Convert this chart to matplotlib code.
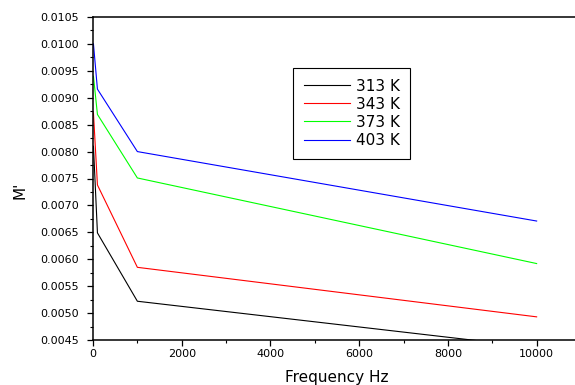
import matplotlib
matplotlib.use("Agg")
import matplotlib.pyplot as plt
from matplotlib.ticker import MultipleLocator, FormatStrFormatter

plt.rcParams['font.family'] = ['DejaVu Sans']

freq = [10, 100, 1000, 10000]
labels = ["313 K", "343 K", "373 K", "403 K"]
colors = ["black", "red", "#00ff00", "blue"]
m_313 = [0.00810, 0.00649, 0.00522, 0.00436]
m_343 = [0.00872, 0.00738, 0.00585, 0.00493]
m_373 = [0.00940, 0.00869, 0.00751, 0.00592]
m_403 = [0.01000, 0.00916, 0.00800, 0.00671]
series = [m_313, m_343, m_373, m_403]

fig = plt.figure(figsize=(5.75, 3.85), dpi=100)
ax = fig.add_axes([93/575, 1-340/385, 488/575, 323/385])

for ys, lab, c in zip(series, labels, colors):
    ax.plot(freq, ys, color=c, lw=0.8, label=lab)

ax.set_xlim(0, 11000)
ax.set_ylim(0.0045, 0.0105)
ax.xaxis.set_major_locator(MultipleLocator(2000))
ax.xaxis.set_minor_locator(MultipleLocator(1000))
ax.yaxis.set_major_locator(MultipleLocator(0.0005))
ax.yaxis.set_minor_locator(MultipleLocator(0.00025))
ax.yaxis.set_major_formatter(FormatStrFormatter('%.4f'))
ax.tick_params(which='major', direction='out', length=4, width=0.9, labelsize=8)
ax.tick_params(which='minor', direction='out', length=2.2, width=0.8)
ax.tick_params(axis='y', which='major', pad=6)
ax.tick_params(axis='x', which='major', pad=2.5)
for s in ax.spines.values():
    s.set_linewidth(1.1)

ax.set_xlabel("Frequency Hz", fontsize=11)
ax.set_ylabel("M'", fontsize=11)
ax.xaxis.set_label_coords((337-93)/488, (340-370)/323)
ax.yaxis.set_label_coords((28-93)/488, (340-190)/323)

leg = ax.legend(loc='upper left', bbox_to_anchor=(293/575, 1-68/385),
                bbox_transform=fig.transFigure, fontsize=11, frameon=True,
                fancybox=False, edgecolor='black', framealpha=1,
                handlelength=3.05, handletextpad=0.35, labelspacing=0.2,
                borderpad=0.7, borderaxespad=0)
leg.get_frame().set_linewidth(0.8)

fig.savefig("out.png", dpi=100)
